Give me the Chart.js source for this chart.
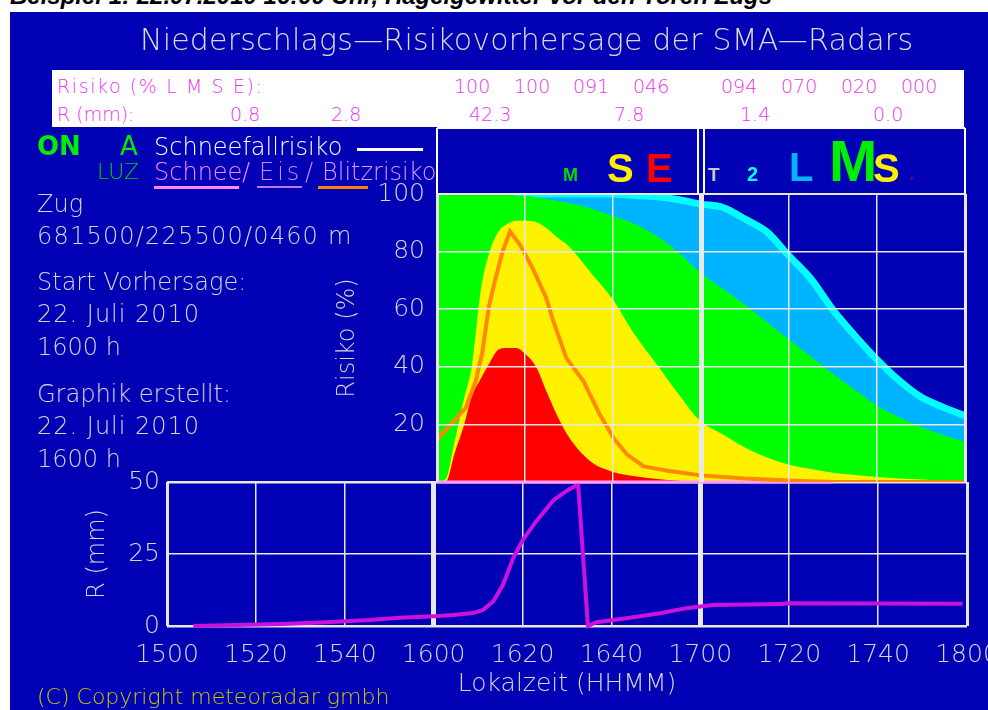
<!DOCTYPE html>
<html>
<head>
<meta charset="utf-8">
<script src="https://cdn.jsdelivr.net/npm/chart.js@4.4.1/dist/chart.umd.min.js"></script>
<style>
  html, body { margin: 0; padding: 0; width: 988px; height: 710px; overflow: hidden; background: #fff; }
  #panel { position: absolute; left: 10px; top: 12px; width: 978px; height: 698px; background: #0000b4; }
  .t { position: absolute; white-space: nowrap; line-height: 1; font-family: "DejaVu Sans", sans-serif; font-weight: 200; z-index: 3; }
  .bar { position: absolute; z-index: 3; }
  #riskBox { position: absolute; left: 330px; top: 120px; width: 650px; height: 389px; z-index: 2; }
  #rainBox { position: absolute; left: 0px; top: 460px; width: 1040px; height: 250px; z-index: 1; }
  #legendClip { position: absolute; left: 0; top: 0; width: 435px; height: 200px; overflow: hidden; z-index: 3; }
</style>
</head>
<body>
<div id="panel"></div>
<div id="legendClip"></div>
<div id="riskBox"><canvas id="risk" width="650" height="389"></canvas></div>
<div id="rainBox"><canvas id="rain" width="1040" height="250"></canvas></div>
<script>
// time in minutes after 15:00
const timeLabels = ['1500', '1520', '1540', '1600', '1620', '1640', '1700', '1720', '1740', '1800'];

// risk (%) of L, M, S, E classes, 1600 - 1800
const riskTimes = [60, 62, 64, 66, 68, 70, 72, 74, 76, 78, 80, 82.5, 85, 87.5, 90, 95, 100,
  105, 110, 115, 120, 125, 130, 135, 140, 145, 150, 155, 160, 165, 170, 175, 180];
const riskL = [100, 100, 100, 100, 100, 100, 100, 100, 100, 100, 100, 100, 100, 100, 100, 100, 100,
  99.5, 99, 98, 96.5, 95.3, 91.3, 86.8, 78.5, 70.5, 59.8, 50.8, 42.5, 35.3, 29.5, 26, 23];
const riskM = [100, 100, 100, 100, 100, 100, 100, 99.9, 99.7, 99.5, 99.3, 98.9, 98.2, 97.6, 96.9, 95, 92.3,
  89.6, 85.3, 79.5, 72.5, 67, 61.5, 55.5, 49.5, 43.5, 37.5, 32, 26.5, 22.5, 19, 16.3, 14];
const riskS = [0, 1, 14, 28, 41, 67, 80, 87, 89.6, 90.7, 90.7, 90.3, 88, 84.7, 81.8, 72.6, 63.3,
  51, 40.7, 30.3, 21, 16.5, 12, 8.5, 6, 4.5, 3.2, 2.4, 1.7, 1.2, 0.9, 0.6, 0.5];
const riskE = [0, 0, 10, 19, 30, 36, 41.5, 46, 46.5, 46.5, 44.5, 40, 31, 22.5, 15.5, 7, 3.5,
  2, 1, 0.4, 0, 0, 0, 0, 0, 0, 0, 0, 0, 0, 0, 0, 0];

// Blitzrisiko (%)
const blitzTimes = [60, 66.5, 68.8, 70.3, 71.8, 73.2, 74.9, 76.6, 79, 81.8, 84.8, 86.4, 89.4, 93.3,
  97, 100.1, 103.2, 107, 112.4, 120, 130, 140, 150, 180];
const blitzValues = [14.7, 25.7, 35, 45, 61, 70, 80, 87, 82, 74, 64, 56, 43, 35,
  23.4, 15.3, 9.5, 5.4, 3.9, 2.3, 1.2, 0.5, 0, 0];

// Schneerisiko (%)
const schneeTimes = [60, 150];
const schneeValues = [0, 0];

// R (mm)
const rainTimes = [5.9, 15.6, 26, 35.9, 45.6, 52.4, 60, 64.4, 68.9, 71.1, 73.4, 75.6, 77.9, 80.1,
  83.1, 86.9, 89.9, 92.5, 94.7, 96.6, 103.4, 110.9, 116.9, 119.5, 122.9, 138.6, 139.4, 179];
const rainValues = [0, 0.35, 0.7, 1.3, 2.1, 2.9, 3.4, 3.8, 4.5, 5.6, 8.5, 14.3, 23.6, 30,
  36.4, 43.6, 46.9, 49.2, 0, 1.3, 2.7, 4.4, 6.2, 6.7, 7.3, 7.6, 7.9, 7.7];

// header summary
const riskSummary = ['100', '100', '091', '046', '094', '070', '020', '000'];
const rainSummary = ['0.8', '2.8', '42.3', '7.8', '1.4', '0.0'];

const GRAY = '#d6d6d6';
const FONT = '"DejaVu Sans", sans-serif';

function put(text, x, base, size, color, opt = {}) {
  const d = document.createElement('div');
  d.className = 't';
  d.textContent = text;
  d.style.left = x + 'px';
  d.style.top = (base - 0.846 * size) + 'px';
  d.style.fontSize = size + 'px';
  d.style.color = color;
  if (opt.weight) d.style.fontWeight = opt.weight;
  if (opt.family) d.style.fontFamily = opt.family;
  if (opt.ls) d.style.letterSpacing = opt.ls + 'px';
  if (opt.style) d.style.fontStyle = opt.style;
  (opt.parent || document.body).appendChild(d);
  return d;
}
function bar(x, y, w, h, color) {
  const d = document.createElement('div');
  d.className = 'bar';
  Object.assign(d.style, { left: x + 'px', top: y + 'px', width: w + 'px', height: h + 'px', background: color });
  document.body.appendChild(d);
}

// caption above the panel (cut off)
put('Beispiel 1: 22.07.2010 16:00 Uhr, Hagelgewitter vor den Toren Zugs', 10, 4, 24, '#000',
  { family: '"Liberation Sans", Arial, sans-serif', weight: 'bold', style: 'italic' }).style.zIndex = 0;

put('Niederschlags—Risikovorhersage der SMA—Radars', 140, 50, 30, '#dcdcdc', { ls: 0.2 });

// white summary box
bar(52, 70, 912, 57, '#ffffff');
const MAG = '#ee33ee';
put('Risiko (% L M S E):', 57, 93, 19, MAG, { ls: 1.6 });
put('R (mm):', 57, 121, 19, MAG);
[454, 514, 573, 633, 721, 781, 841, 901].forEach((x, i) => put(riskSummary[i], x, 93, 19, MAG));
[230, 331, 469, 614, 740, 873].forEach((x, i) => put(rainSummary[i], x, 121, 19, MAG));

// legend
const clip = document.getElementById('legendClip');
put('ON', 37, 155, 26, '#00ee00', { weight: 'bold', parent: clip });
put('A', 120, 155, 26, '#00ee00', { weight: 'normal', parent: clip });
put('Schneefallrisiko', 154, 155, 24, '#ffffff', { parent: clip });
bar(357, 148, 66, 3, '#ffffff');
put('LUZ', 97, 180, 22, '#00cc00', { parent: clip });
put('Schnee', 154, 180, 24, '#ff88ff', { parent: clip });
put('/', 242, 180, 24, '#ff88ff', { parent: clip });
put('Eis', 259, 180, 24, '#cc88ff', { ls: 3, parent: clip });
put('/', 305, 180, 24, '#cc88ff', { parent: clip });
put('Blitzrisiko', 322, 180, 24, '#dd99ff', { parent: clip });
bar(154, 186, 85, 3, '#ff88ff');
bar(257, 186, 45, 2, '#bb77ff');
bar(318, 186, 50, 3, '#ff8000');

// station info
put('Zug', 37, 212, 24, GRAY);
put('681500/225500/0460 m', 37, 244, 24, GRAY, { ls: 1.2 });
put('Start Vorhersage:', 37, 290, 24, GRAY);
put('22. Juli 2010', 37, 322, 24, GRAY, { ls: 1 });
put('1600 h', 37, 355, 24, GRAY);
put('Graphik erstellt:', 37, 402, 24, GRAY);
put('22. Juli 2010', 37, 434, 24, GRAY, { ls: 1 });
put('1600 h', 37, 467, 24, GRAY);

// class letters over the risk chart
const LS = '"Liberation Sans", Arial, sans-serif';
put('M', 563, 181, 18, '#00dd00', { family: LS, weight: 'bold' });
put('S', 607, 182, 40, '#ffee00', { family: LS, weight: 'bold' });
put('E', 646, 182, 40, '#ff0000', { family: LS, weight: 'bold' });
put('T', 708, 181, 19, '#c8c8c8', { family: LS, weight: 'bold' });
put('2', 747, 181, 20, '#00ffff', { family: LS, weight: 'bold' });
put('L', 789, 181, 40, '#00b4ff', { family: LS, weight: 'bold' });
put('M', 829, 181, 58, '#00ee00', { family: LS, weight: 'bold' });
put('S', 873, 182, 40, '#ffee00', { family: LS, weight: 'bold' });
put('E', 911, 181, 3, '#ff0000', { family: LS, weight: 'bold' });

put('(C) Copyright meteoradar gmbh', 37, 705, 22, '#c8c800');

const pts = (xs, ys) => xs.map((x, i) => ({ x: x, y: ys[i] }));

const headerFrame = {
  id: 'headerFrame',
  afterDraw(chart) {
    const { ctx, chartArea, scales: { x } } = chart;
    const top = chartArea.top - 66;
    const x0 = x.getPixelForValue(60), x1 = x.getPixelForValue(120), x2 = x.getPixelForValue(180);
    ctx.save();
    ctx.strokeStyle = '#ffffff';
    ctx.lineWidth = 2;
    ctx.beginPath();
    ctx.moveTo(x0, top); ctx.lineTo(x2, top);
    ctx.moveTo(x0, top); ctx.lineTo(x0, chartArea.top);
    ctx.moveTo(x1 - 3, top); ctx.lineTo(x1 - 3, chartArea.top);
    ctx.moveTo(x1 + 3, top); ctx.lineTo(x1 + 3, chartArea.top);
    ctx.moveTo(x2, top); ctx.lineTo(x2, chartArea.top);
    ctx.stroke();
    ctx.restore();
  }
};

const area = (data, color, order) => ({
  data: data, fill: 'origin', backgroundColor: color, borderColor: color, borderWidth: 0,
  pointRadius: 0, cubicInterpolationMode: 'monotone', order: order
});

new Chart(document.getElementById('risk'), {
  type: 'line',
  data: {
    datasets: [
      { data: pts(blitzTimes, blitzValues), borderColor: '#ff8800', borderWidth: 4, pointRadius: 0, tension: 0, fill: false, order: 0 },
      { data: pts(schneeTimes, schneeValues), borderColor: '#ff99ff', borderWidth: 3, pointRadius: 0, fill: false, clip: false, order: 1 },
      area(pts(riskTimes, riskE), '#ff0000', 2),
      area(pts(riskTimes, riskS), '#fff200', 3),
      area(pts(riskTimes, riskM), '#00ff00', 4),
      { data: pts(riskTimes, riskL), fill: 'origin', backgroundColor: '#00b4ff', borderColor: '#00ffff', borderWidth: 7,
        pointRadius: 0, cubicInterpolationMode: 'monotone', order: 5 }
    ]
  },
  options: {
    responsive: false,
    animation: false,
    layout: { padding: { left: 0, top: 74, right: 15, bottom: 0 } },
    plugins: { legend: { display: false }, tooltip: { enabled: false } },
    scales: {
      x: {
        type: 'linear', min: 60, max: 180, z: 1,
        ticks: { display: false, stepSize: 20 },
        grid: {
          z: 1, drawTicks: false, color: '#e8e8e8',
          lineWidth: c => c.tick.value === 120 ? 5 : (c.tick.value === 60 || c.tick.value === 180 ? 3 : 1.5)
        },
        border: { display: false },
        afterFit: s => { s.height = 27; }
      },
      y: {
        min: 0, max: 100, z: 1,
        ticks: { stepSize: 20, padding: 12, color: GRAY, font: { family: FONT, size: 25, weight: 200 },
          callback: v => v === 0 ? '' : v },
        grid: {
          z: 1, drawTicks: false,
          color: c => c.tick.value === 0 ? 'rgba(0,0,0,0)' : '#e8e8e8',
          lineWidth: c => c.tick.value === 100 ? 2 : 1.5
        },
        border: { display: false },
        title: { display: true, text: 'Risiko (%)', color: GRAY, font: { family: FONT, size: 24, weight: 200 }, padding: { top: 3, bottom: 0 } },
        afterFit: s => { s.width = 107; }
      }
    }
  },
  plugins: [headerFrame]
});

new Chart(document.getElementById('rain'), {
  type: 'line',
  data: {
    datasets: [
      { data: pts(rainTimes, rainValues), borderColor: '#cc11dd', borderWidth: 4, pointRadius: 0, tension: 0, fill: false, clip: false }
    ]
  },
  options: {
    responsive: false,
    animation: false,
    layout: { padding: { left: 0, top: 22, right: 73, bottom: 0 } },
    plugins: { legend: { display: false }, tooltip: { enabled: false } },
    scales: {
      x: {
        type: 'linear', min: 0, max: 180,
        ticks: { stepSize: 20, padding: 14, maxRotation: 0, autoSkip: false, color: GRAY,
          font: { family: FONT, size: 25, weight: 200 },
          callback: (v, i) => timeLabels[i] },
        grid: {
          drawTicks: false, color: '#e8e8e8',
          lineWidth: c => (c.tick.value === 60 || c.tick.value === 120) ? 5 : (c.tick.value === 0 || c.tick.value === 180 ? 3 : 1.5)
        },
        border: { display: false },
        title: { display: true, text: 'Lokalzeit (HHMM)', color: GRAY, font: { family: FONT, size: 25, weight: 200 }, padding: { top: 0, bottom: 11 } },
        afterFit: s => { s.height = 84; }
      },
      y: {
        min: 0, max: 50,
        ticks: { stepSize: 25, padding: 7, color: GRAY, font: { family: FONT, size: 25, weight: 200 } },
        grid: { drawTicks: false, color: '#e8e8e8', lineWidth: c => c.tick.value === 25 ? 1.5 : 2.5 },
        border: { display: false },
        title: { display: true, text: 'R (mm)', color: GRAY, font: { family: FONT, size: 24, weight: 200 }, padding: { top: 83, bottom: 0 } },
        afterFit: s => { s.width = 167; }
      }
    }
  }
});
</script>
</body>
</html>
